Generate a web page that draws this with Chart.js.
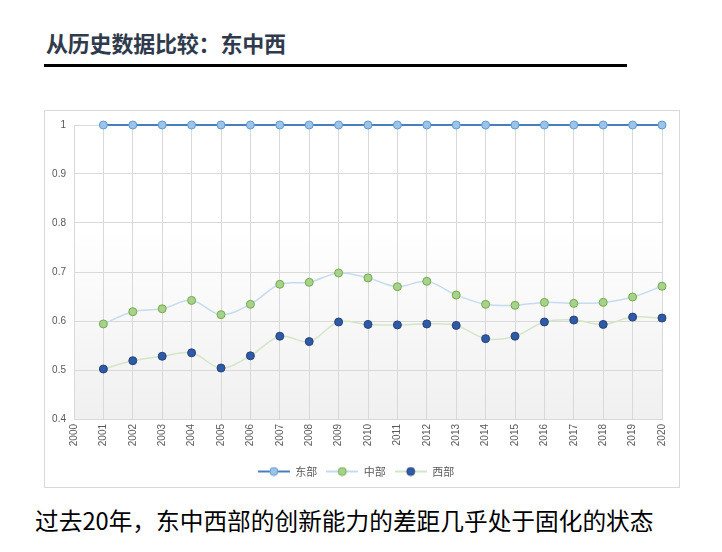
<!DOCTYPE html>
<html>
<head>
<meta charset="utf-8">
<script src="https://cdn.jsdelivr.net/npm/chart.js@4/dist/chart.umd.min.js"></script>
<style>
  body { margin: 0; width: 722px; height: 552px; background: #fff; position: relative; overflow: hidden; }
  #title { position: absolute; left: 46px; top: 26px; font: bold 22px "Noto Sans CJK SC", sans-serif; color: #2f3b4c; letter-spacing: -0.2px; }
  #rule { position: absolute; left: 44px; top: 64px; width: 583px; height: 3px; background: #000; }
  #box { position: absolute; left: 44px; top: 110px; width: 634px; height: 376px; border: 1px solid #d9d9d9; }
  #note { position: absolute; left: 35px; top: 503px; font: 23.7px "Noto Sans CJK SC", sans-serif; color: #000; }
</style>
</head>
<body>
<div id="title">从历史数据比较：东中西</div>
<div id="rule"></div>
<div id="box"><canvas id="c" width="634" height="376"></canvas></div>
<div id="note">过去20年，东中西部的创新能力的差距几乎处于固化的状态</div>
<script>
const years = ['2000','2001','2002','2003','2004','2005','2006','2007','2008','2009','2010',
               '2011','2012','2013','2014','2015','2016','2017','2018','2019','2020']
const east = [null,1,1,1,1,1,1,1,1,1,1,1,1,1,1,1,1,1,1,1,1]
const central = [null,0.594,0.619,0.625,0.642,0.613,0.634,0.675,0.679,0.698,0.688,
                 0.670,0.681,0.653,0.634,0.632,0.638,0.636,0.638,0.649,0.671]
const west = [null,0.502,0.519,0.528,0.535,0.504,0.529,0.569,0.558,0.598,0.593,
              0.592,0.594,0.591,0.564,0.569,0.598,0.602,0.593,0.608,0.606]
const yTicks = [0.4, 0.5, 0.6, 0.7, 0.8, 0.9, 1]

const textColor = '#595959'
const gridColor = '#d9d9d9'

// little line+dot picture for each legend entry
function legendIcon(lineColor, fill, border) {
    const cv = document.createElement('canvas')
    cv.width = 32
    cv.height = 10
    const g = cv.getContext('2d')
    g.strokeStyle = lineColor
    g.lineWidth = 2
    g.beginPath()
    g.moveTo(0, 5)
    g.lineTo(32, 5)
    g.stroke()
    g.fillStyle = fill
    g.strokeStyle = border
    g.lineWidth = 1
    g.beginPath()
    g.arc(16, 5, 4, 0, Math.PI*2)
    g.fill()
    g.stroke()
    return cv
}

const plotBg = {
    id: 'plotBg',
    beforeDraw(chart) {
        const {ctx, chartArea: a} = chart
        const grad = ctx.createLinearGradient(0, a.top, 0, a.bottom)
        grad.addColorStop(0, '#ffffff')
        grad.addColorStop(0.35, '#ffffff')
        grad.addColorStop(1, '#f0f0f0')
        ctx.save()
        ctx.fillStyle = grad
        ctx.fillRect(a.left, a.top, a.right - a.left, a.bottom - a.top)
        ctx.restore()
    }
}

const series = [
    {label: '东部', data: east, line: '#4a7ebb', fill: '#9dc3e6', border: '#5b9bd5', width: 1.8},
    {label: '中部', data: central, line: '#c6dbef', fill: '#a9d18e', border: '#70ad47', width: 1.5},
    {label: '西部', data: west, line: '#d3e6c6', fill: '#2f5aa8', border: '#264478', width: 1.5},
]

new Chart(document.getElementById('c'), {
    type: 'line',
    data: {
        labels: years,
        datasets: series.map(s => ({
            label: s.label,
            data: s.data,
            borderColor: s.line,
            borderWidth: s.width,
            backgroundColor: s.fill,
            pointBackgroundColor: s.fill,
            pointBorderColor: s.border,
            pointBorderWidth: 1,
            pointRadius: 4,
            tension: 0.35,
            fill: false,
            clip: false,
        }))
    },
    options: {
        responsive: false,
        animation: false,
        layout: {padding: {left: 0, right: 12, top: 12, bottom: 0}},
        plugins: {
            tooltip: {enabled: false},
            legend: {
                position: 'bottom',
                labels: {
                    usePointStyle: true,
                    pointStyleWidth: 32,
                    boxHeight: 10,
                    padding: 9,
                    color: textColor,
                    font: {family: '"Noto Sans CJK SC", sans-serif', size: 11},
                    generateLabels: () => series.map((s, i) => ({
                        text: s.label,
                        pointStyle: legendIcon(s.line, s.fill, s.border),
                        fillStyle: s.fill,
                        strokeStyle: s.border,
                        lineWidth: 0,
                        fontColor: textColor,
                        datasetIndex: i,
                    }))
                }
            }
        },
        scales: {
            x: {
                offset: false,
                grid: {color: gridColor, drawTicks: false},
                border: {color: gridColor},
                ticks: {
                    color: textColor,
                    font: {family: '"Liberation Sans", sans-serif', size: 10},
                    minRotation: 90,
                    maxRotation: 90,
                    autoSkip: false,
                    padding: 5,
                },
                afterFit(scale) { scale.height = 38 }
            },
            y: {
                min: 0.4,
                max: 1,
                afterBuildTicks(scale) { scale.ticks = yTicks.map(v => ({value: v})) },
                grid: {color: gridColor, drawTicks: false},
                border: {color: gridColor},
                ticks: {
                    color: textColor,
                    font: {family: '"Liberation Sans", sans-serif', size: 10},
                    padding: 8,
                    callback: v => String(v),
                },
                afterFit(scale) { scale.width = 29 }
            }
        }
    },
    plugins: [plotBg]
})
</script>
</body>
</html>
